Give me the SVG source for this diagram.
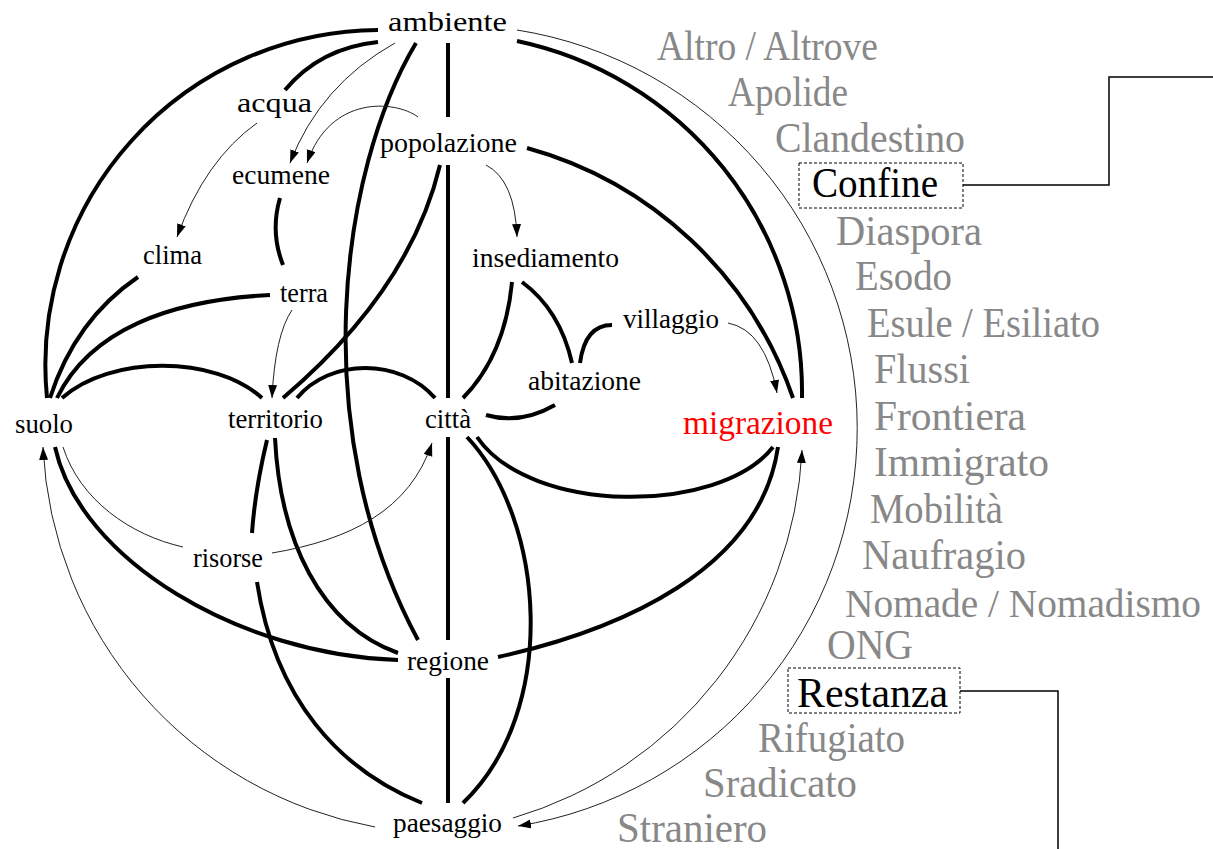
<svg xmlns="http://www.w3.org/2000/svg" width="1213" height="849" viewBox="0 0 1213 849">
<style>
text{font-family:"Liberation Serif","Times New Roman",serif}
.n{font-size:28px;fill:#000}
.r{font-size:33px;fill:#ff0000}
.g{font-size:42px;fill:#888}
.b{font-size:42px;fill:#000}
.k{fill:none;stroke:#000;stroke-width:4}
.t{fill:none;stroke:#222;stroke-width:1}
.ta{fill:none;stroke:#222;stroke-width:1;marker-end:url(#ah)}
.box{fill:none;stroke:#000;stroke-width:1;stroke-dasharray:3 2}
.lead{fill:none;stroke:#000;stroke-width:1.5}
</style>
<defs>
<marker id="ah" markerUnits="userSpaceOnUse" markerWidth="14" markerHeight="10" refX="13" refY="4.5" orient="auto">
<path d="M0,0 L13,4.5 L0,9 z" fill="#000"/>
</marker>
</defs>
<rect width="1213" height="849" fill="#fff"/>
<g id="connectors">
<path class="k" d="M378,30 A335,335 0 0 0 47,398"/>
<path class="k" d="M378,42 Q320,48 285,90"/>
<path class="k" d="M416,43 C340,170 305,430 418,640"/>
<path class="k" d="M448,43 V117"/>
<path class="k" d="M448,165 V398"/>
<path class="k" d="M448,437 V640"/>
<path class="k" d="M448,678 V803"/>
<path class="k" d="M517,41 A359,359 0 0 1 802,398"/>
<path class="k" d="M527,148 A391,391 0 0 1 793,398"/>
<path class="k" d="M440,165 Q410,290 283,398"/>
<path class="k" d="M280,198 Q270,232 283,265"/>
<path class="k" d="M138,277 Q75,320 50,398"/>
<path class="k" d="M270,295 C170,300 90,330 57,398"/>
<path class="k" d="M62,398 C110,355 215,355 262,398"/>
<path class="k" d="M297,398 C330,358 400,358 435,398"/>
<path class="k" d="M512,282 Q505,355 463,398"/>
<path class="k" d="M522,282 Q560,310 572,363"/>
<path class="k" d="M612,325 Q585,325 580,363"/>
<path class="k" d="M555,405 Q520,425 486,415"/>
<path class="k" d="M477,437 C530,515 720,515 773,447"/>
<path class="k" d="M467,437 C545,520 560,710 463,803"/>
<path class="k" d="M498,657 C620,630 760,570 778,447"/>
<path class="k" d="M55,447 C80,560 240,655 398,660"/>
<path class="k" d="M275,438 C280,540 320,625 398,653"/>
<path class="k" d="M267,440 Q255,490 252,533"/>
<path class="k" d="M257,582 C275,700 340,770 422,803"/>
<path class="ta" d="M517,30 A403,403 0 0 1 518,826"/>
<path class="ta" d="M513,818 A403,403 0 0 0 802,450"/>
<path class="ta" d="M375,827 A405,405 0 0 1 43,447"/>
<path class="t" d="M63,447 C80,500 130,535 183,547"/>
<path class="ta" d="M272,553 C350,540 410,510 432,443"/>
<path class="ta" d="M257,123 Q205,160 177,237"/>
<path class="ta" d="M395,43 Q320,85 290,163"/>
<path class="ta" d="M418,117 C395,100 330,95 307,163"/>
<path class="ta" d="M486,165 Q515,180 517,237"/>
<path class="ta" d="M292,310 Q275,335 272,398"/>
<path class="ta" d="M728,323 Q765,330 777,393"/>
<path class="lead" d="M963,185 H1109 V77 H1213"/>
<path class="lead" d="M960,691 H1058 V849"/>
</g>
<g id="node-ambiente"><text class="n" x="388" y="31" textLength="119" lengthAdjust="spacingAndGlyphs">ambiente</text></g>
<g id="node-acqua"><text class="n" x="237" y="112" textLength="75" lengthAdjust="spacingAndGlyphs">acqua</text></g>
<g id="node-popolazione"><text class="n" x="380" y="152" textLength="137" lengthAdjust="spacingAndGlyphs">popolazione</text></g>
<g id="node-ecumene"><text class="n" x="232" y="184" textLength="98" lengthAdjust="spacingAndGlyphs">ecumene</text></g>
<g id="node-clima"><text class="n" x="143" y="264" textLength="59" lengthAdjust="spacingAndGlyphs">clima</text></g>
<g id="node-insediamento"><text class="n" x="472" y="267" textLength="147" lengthAdjust="spacingAndGlyphs">insediamento</text></g>
<g id="node-terra"><text class="n" x="280" y="302" textLength="48" lengthAdjust="spacingAndGlyphs">terra</text></g>
<g id="node-villaggio"><text class="n" x="623" y="328" textLength="96" lengthAdjust="spacingAndGlyphs">villaggio</text></g>
<g id="node-abitazione"><text class="n" x="528" y="390" textLength="113" lengthAdjust="spacingAndGlyphs">abitazione</text></g>
<g id="node-suolo"><text class="n" x="15" y="433" textLength="58" lengthAdjust="spacingAndGlyphs">suolo</text></g>
<g id="node-territorio"><text class="n" x="228" y="428" textLength="95" lengthAdjust="spacingAndGlyphs">territorio</text></g>
<g id="node-citta"><text class="n" x="425" y="428" textLength="46" lengthAdjust="spacingAndGlyphs">città</text></g>
<g id="node-migrazione"><text class="r" x="683" y="434" textLength="150" lengthAdjust="spacingAndGlyphs">migrazione</text></g>
<g id="node-risorse"><text class="n" x="193" y="567" textLength="70" lengthAdjust="spacingAndGlyphs">risorse</text></g>
<g id="node-regione"><text class="n" x="407" y="670" textLength="82" lengthAdjust="spacingAndGlyphs">regione</text></g>
<g id="node-paesaggio"><text class="n" x="393" y="832" textLength="109" lengthAdjust="spacingAndGlyphs">paesaggio</text></g>
<g id="list">
<text class="g" x="657" y="60" textLength="221" lengthAdjust="spacingAndGlyphs">Altro / Altrove</text>
<text class="g" x="728" y="106" textLength="120" lengthAdjust="spacingAndGlyphs">Apolide</text>
<text class="g" x="775" y="152" textLength="190" lengthAdjust="spacingAndGlyphs">Clandestino</text>
<g id="node-confine"><rect class="box" x="799" y="163" width="164" height="45"/><text class="b" x="812" y="197" textLength="126" lengthAdjust="spacingAndGlyphs">Confine</text></g>
<text class="g" x="836" y="245" textLength="146" lengthAdjust="spacingAndGlyphs">Diaspora</text>
<text class="g" x="855" y="290" textLength="97" lengthAdjust="spacingAndGlyphs">Esodo</text>
<text class="g" x="867" y="337" textLength="233" lengthAdjust="spacingAndGlyphs">Esule / Esiliato</text>
<text class="g" x="874" y="383" textLength="96" lengthAdjust="spacingAndGlyphs">Flussi</text>
<text class="g" x="874" y="430" textLength="152" lengthAdjust="spacingAndGlyphs">Frontiera</text>
<text class="g" x="874" y="476" textLength="175" lengthAdjust="spacingAndGlyphs">Immigrato</text>
<text class="g" x="870" y="523" textLength="133" lengthAdjust="spacingAndGlyphs">Mobilità</text>
<text class="g" x="862" y="569" textLength="164" lengthAdjust="spacingAndGlyphs">Naufragio</text>
<text class="g" x="845" y="617" style="font-size:40px" textLength="356" lengthAdjust="spacingAndGlyphs">Nomade / Nomadismo</text>
<text class="g" x="827" y="659" textLength="86" lengthAdjust="spacingAndGlyphs">ONG</text>
<g id="node-restanza"><rect class="box" x="788" y="668" width="172" height="45"/><text class="b" x="797" y="707" textLength="151" lengthAdjust="spacingAndGlyphs">Restanza</text></g>
<text class="g" x="758" y="752" textLength="147" lengthAdjust="spacingAndGlyphs">Rifugiato</text>
<text class="g" x="703" y="797" textLength="154" lengthAdjust="spacingAndGlyphs">Sradicato</text>
<text class="g" x="617" y="842" textLength="150" lengthAdjust="spacingAndGlyphs">Straniero</text>
</g>
</svg>
